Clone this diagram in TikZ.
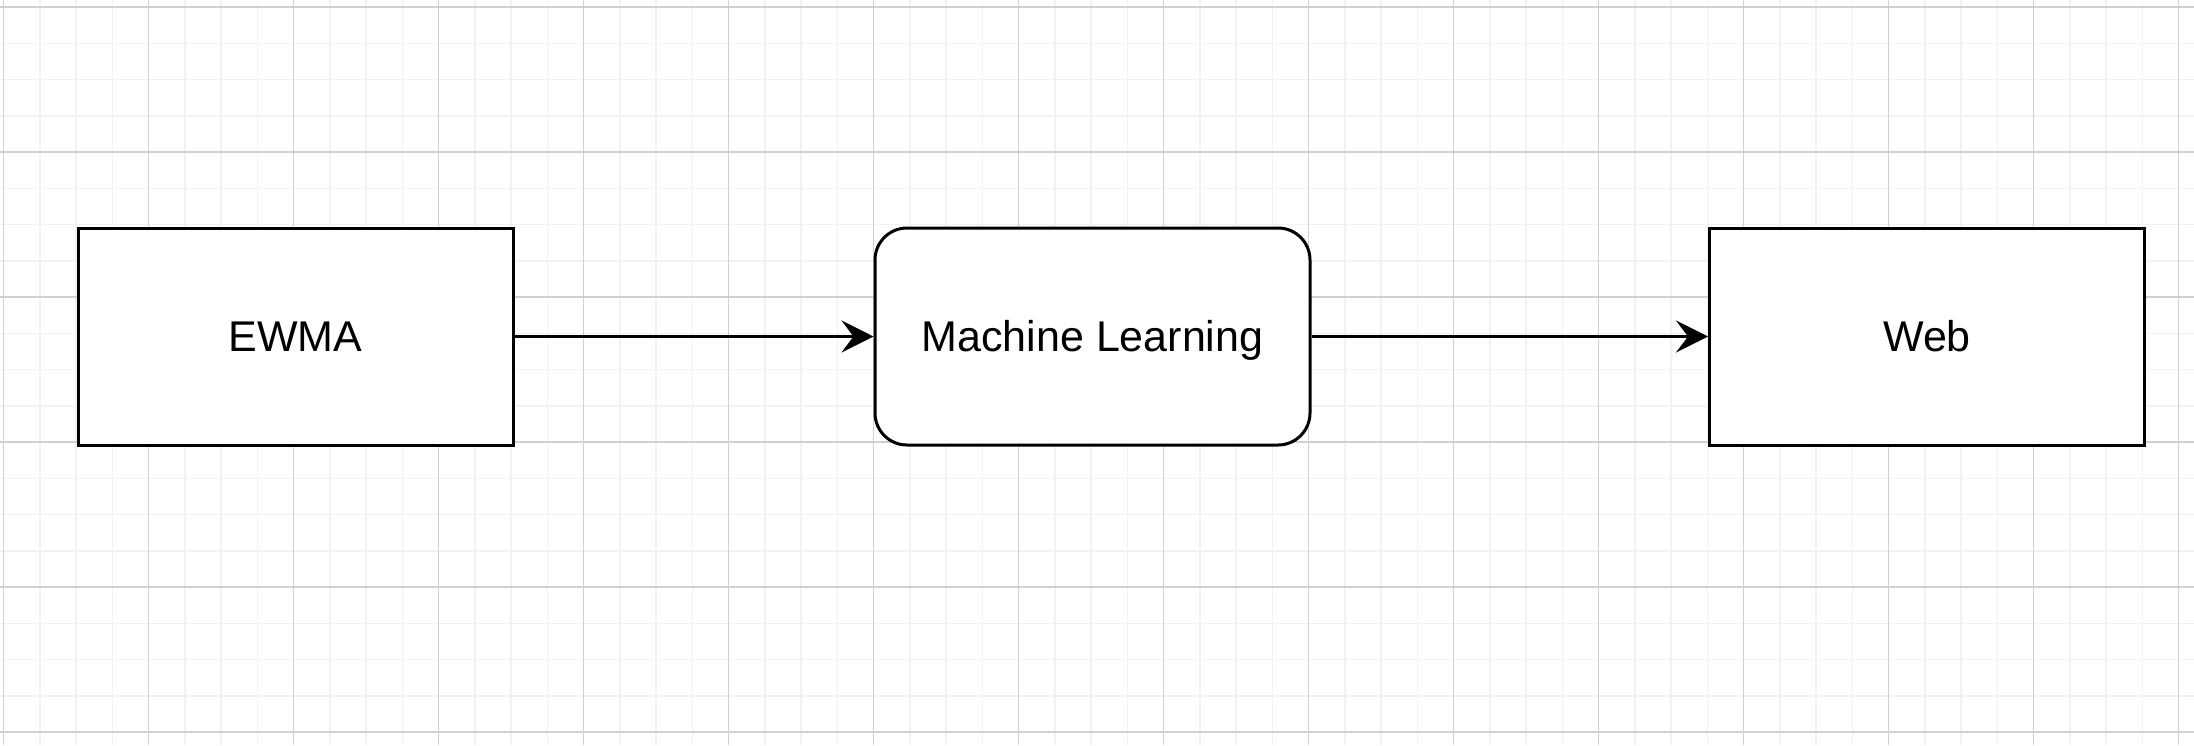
\documentclass[tikz,border=0pt]{standalone}
\usepackage{fontspec}
\setmainfont{Liberation Sans}
\usetikzlibrary{arrows.meta}
\definecolor{gridmajor}{HTML}{D0D0D0}
\definecolor{gridminor}{HTML}{F2F2F2}
\tikzset{
  minorline/.style={draw=gridminor, line width=0.75pt},
  majorline/.style={draw=gridmajor, line width=0.6pt},
  block/.style={draw=black, fill=white, line width=1.5pt, inner sep=0pt,
    minimum width=217.5pt, minimum height=108.5pt,
    text height=15.4pt, text depth=0pt,
    font=\fontsize{21.5pt}{26pt}\selectfont},
  roundblock/.style={block, rounded corners=16pt},
  flow/.style={draw=black, line width=1.5pt,
    -{Stealth[length=16pt, width=16pt, inset=6pt]}}
}
\begin{document}
\begin{tikzpicture}[x=0.5pt, y=-0.5pt]
  \useasboundingbox (0,0) rectangle (2194,745);
  \fill[white] (0,0) rectangle (2194,745);
  % background grid: minor lines every 36.25 units, major every fourth
  \foreach \i in {0,...,60} {
    \pgfmathsetmacro{\gx}{3.5+36.25*\i}
    \path[minorline] (\gx,0) -- (\gx,745);
  }
  \foreach \j in {0,...,20} {
    \pgfmathsetmacro{\gy}{7+36.25*\j}
    \path[minorline] (0,\gy) -- (2194,\gy);
  }
  \foreach \i in {0,...,15} {
    \pgfmathsetmacro{\gx}{3.5+145*\i}
    \path[majorline] (\gx,0) -- (\gx,745);
  }
  \foreach \j in {0,...,5} {
    \pgfmathsetmacro{\gy}{7+145*\j}
    \path[majorline] (0,\gy) -- (2194,\gy);
  }
  % processing stages
  \node[block] (ewma) at (295.5,336.5) {EWMA};
  \node[roundblock] (ml) at (1092.5,336.5) {Machine Learning};
  \node[block] (web) at (1927,336.5) {Web};
  % data flow
  \draw[flow] (ewma.east) -- (ml.west);
  \draw[flow] (ml.east) -- (web.west);
\end{tikzpicture}
\end{document}
